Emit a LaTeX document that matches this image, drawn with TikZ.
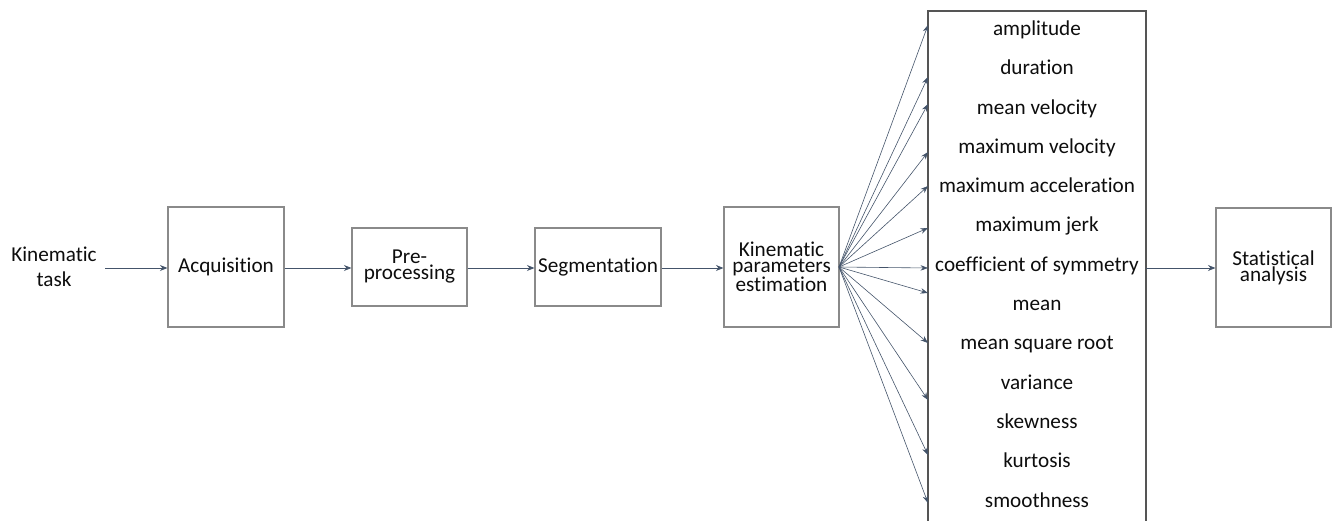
\documentclass[tikz,border=0pt]{standalone}
\usepackage{fontspec}
\setmainfont{Carlito}[Ligatures=NoCommon]
\usetikzlibrary{arrows.meta}
\definecolor{boxgray}{HTML}{8A8A8A}
\definecolor{bigbox}{HTML}{555555}
\definecolor{arrowc}{HTML}{44546A}
\definecolor{txt}{HTML}{0D0D0D}
\begin{document}
\begin{tikzpicture}[x=1pt,y=-1pt,
  stepbox/.style={draw=boxgray, line width=1.1pt, rectangle, inner sep=0pt, align=center,
    text=txt, font=\fontsize{21.2}{16}\selectfont},
  lbl/.style={text=txt, font=\fontsize{21.2}{24}\selectfont, inner sep=0pt},
  arr/.style={draw=arrowc, line width=0.9pt, -{Stealth[length=7.5pt,width=6pt]}},
  fan/.style={draw=arrowc, line width=0.6pt, -{Stealth[length=7.5pt,width=5.5pt]}}]
\useasboundingbox (0,0) rectangle (1333,521);
\clip (0,0) rectangle (1333,521);
\node[lbl, align=center, font=\fontsize{21.2}{25}\selectfont] (task) at (54,267) {Kinematic\\task};
\node[stepbox, minimum width=116pt, minimum height=120pt] (acq) at (226,267) {Acquisition};
\node[stepbox, minimum width=115pt, minimum height=78pt] (pre) at (409.5,267) {Pre-\\processing};
\node[stepbox, minimum width=126pt, minimum height=78pt] (seg) at (598,267) {Segmentation};
\node[stepbox, minimum width=115pt, minimum height=120pt] (kpe) at (781.5,267) {Kinematic\\parameters\\estimation};
\node[stepbox, minimum width=115pt, minimum height=119pt] (stat) at (1273.5,267.5) {Statistical\\analysis};
\node[draw=bigbox, line width=1.3pt, rectangle, minimum width=218pt, minimum height=520pt, inner sep=0pt] (params) at (1037,271) {};
\coordinate (tstart) at (105,268);
\draw[arr] (tstart) -- (acq.west |- tstart);
\draw[arr] (acq.east |- tstart) -- (pre.west |- tstart);
\draw[arr] (pre.east |- tstart) -- (seg.west |- tstart);
\draw[arr] (seg.east |- tstart) -- (kpe.west |- tstart);
\coordinate (kout) at (839,267);
\foreach \y [count=\i] in {25,77,104,152,186,228,268,293,343,400,455,503}{
  \coordinate (t\i) at (928,\y);
  \draw[fan] (kout) -- (t\i);
}
\foreach \t [count=\i] in {amplitude,duration,mean velocity,maximum velocity,maximum acceleration,maximum jerk,coefficient of symmetry,mean,mean square root,variance,skewness,kurtosis,smoothness}{
  \node[lbl, anchor=base] (l\i) at (1037,{35.5+(\i-1)*39.3}) {\t};
}
\coordinate (pout) at (1146,268);
\draw[arr] (pout) -- (stat.west |- pout);
\end{tikzpicture}
\end{document}
